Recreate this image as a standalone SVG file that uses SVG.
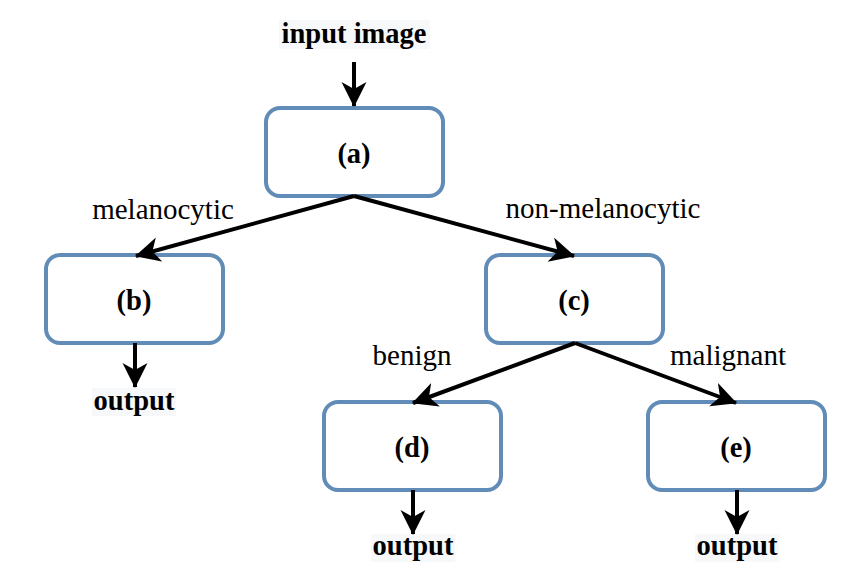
<svg xmlns="http://www.w3.org/2000/svg" width="847" height="587" viewBox="0 0 847 587">
<style>
.box{fill:#fff;stroke:#618cb8;stroke-width:4}
.lbl{font-family:"Liberation Serif",serif;font-size:28.5px;font-weight:bold;text-anchor:middle;fill:#000}
.edge{font-family:"Liberation Serif",serif;font-size:29px;text-anchor:middle;fill:#000}
.io{font-family:"Liberation Serif",serif;font-size:28.5px;font-weight:bold;text-anchor:middle;fill:#000}
.bg{fill:#f7f8fa}
.conn{stroke:#000;stroke-width:4;fill:none;marker-end:url(#ah)}
</style>
<defs>
<marker id="ah" markerUnits="userSpaceOnUse" markerWidth="28" markerHeight="28" refX="24" refY="12.5" orient="auto">
<path d="M0,0 L25,12.5 L0,25 L7,12.5 z" fill="#000"/>
</marker>
</defs>
<rect width="847" height="587" fill="#fff"/>
<g id="input">
<rect class="bg" x="279" y="20" width="151" height="29"/>
<text class="io" x="354" y="43">input image</text>
</g>
<g id="node-a"><rect class="box" x="266" y="108" width="177" height="88" rx="14"/><text class="lbl" x="354" y="163">(a)</text></g>
<g id="node-b"><rect class="box" x="46" y="255" width="177" height="88" rx="14"/><text class="lbl" x="134" y="310">(b)</text></g>
<g id="node-c"><rect class="box" x="486" y="255" width="177" height="88" rx="14"/><text class="lbl" x="574" y="310">(c)</text></g>
<g id="node-d"><rect class="box" x="324" y="402" width="177" height="88" rx="14"/><text class="lbl" x="412" y="457">(d)</text></g>
<g id="node-e"><rect class="box" x="648" y="402" width="177" height="88" rx="14"/><text class="lbl" x="736" y="457">(e)</text></g>
<g id="out-b"><rect class="bg" x="92" y="388" width="84" height="28"/><text class="io" x="134" y="410">output</text></g>
<g id="out-d"><rect class="bg" x="371" y="534" width="84" height="28"/><text class="io" x="413" y="555">output</text></g>
<g id="out-e"><rect class="bg" x="695" y="534" width="84" height="28"/><text class="io" x="737" y="555">output</text></g>
<g id="connectors">
<line class="conn" x1="354" y1="62" x2="354" y2="106"/>
<line class="conn" x1="354" y1="196" x2="136" y2="256"/>
<line class="conn" x1="354" y1="196" x2="574" y2="256"/>
<line class="conn" x1="135" y1="343" x2="135" y2="387"/>
<line class="conn" x1="575" y1="343" x2="413" y2="403"/>
<line class="conn" x1="575" y1="343" x2="736" y2="403"/>
<line class="conn" x1="413" y1="490" x2="413" y2="534"/>
<line class="conn" x1="737" y1="490" x2="737" y2="534"/>
<text class="edge" x="163" y="219">melanocytic</text>
<text class="edge" x="603" y="218">non-melanocytic</text>
<text class="edge" x="412" y="365">benign</text>
<text class="edge" x="728" y="365">malignant</text>
</g>
</svg>
